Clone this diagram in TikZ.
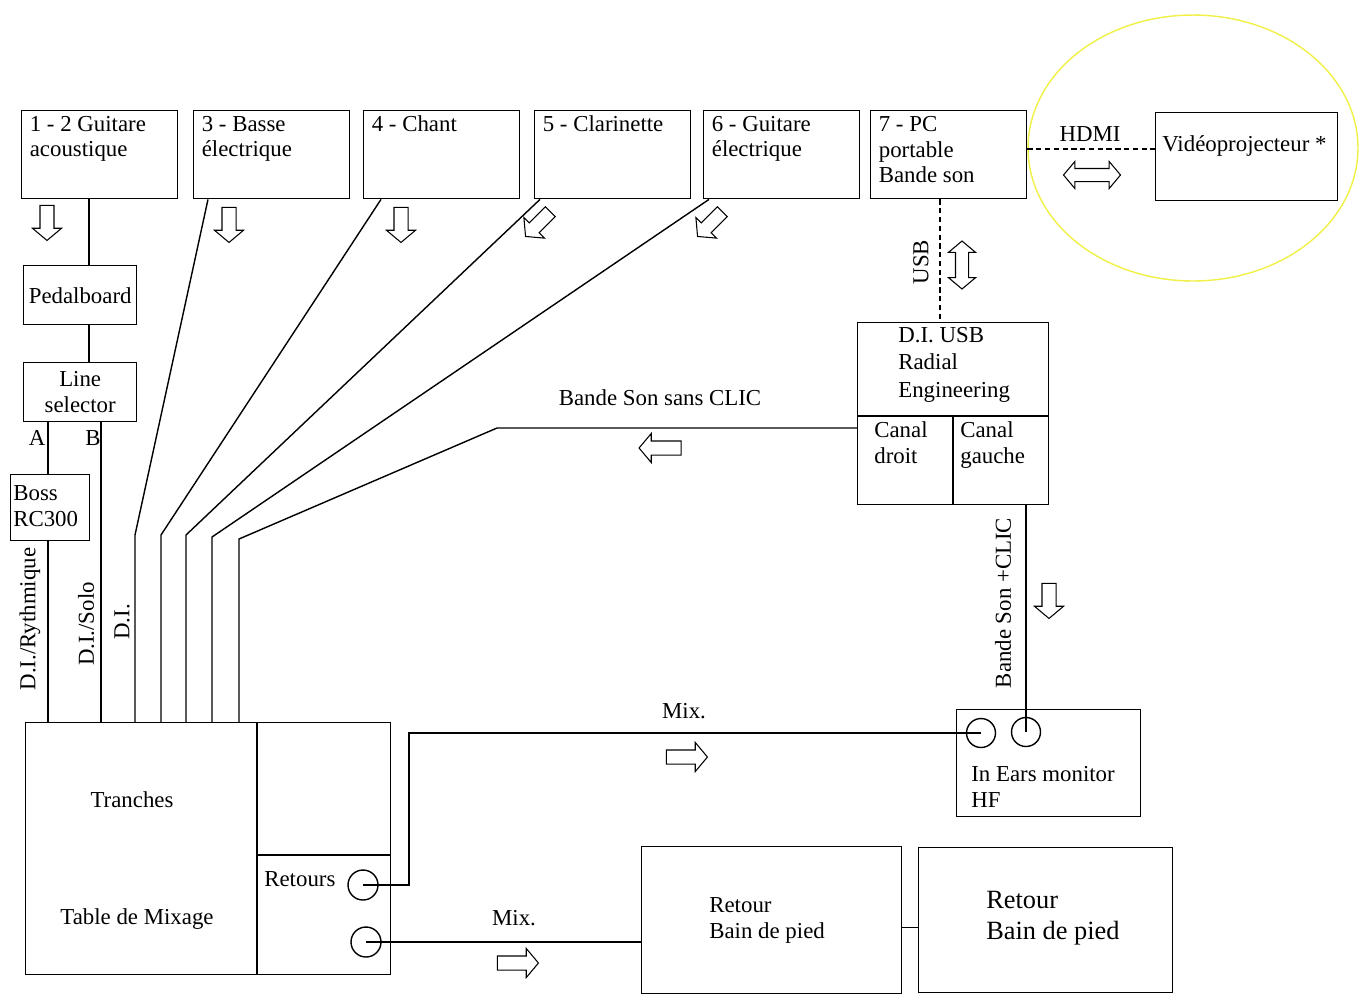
\documentclass[tikz,border=0pt]{standalone}
\usepackage{fontspec}
\setmainfont{Liberation Serif}
\usetikzlibrary{shapes.arrows}
\definecolor{halo}{RGB}{240,240,70}
\tikzset{
  box/.style={draw, line width=0.8pt, inner sep=0, anchor=north west},
  lbl/.style={inner sep=0, anchor=base west, align=left, font=\fontsize{13}{14.7}\selectfont},
  hollow/.style={single arrow, draw, line width=0.6pt, inner xsep=0, inner ysep=0.13cm, minimum height=0.7cm, single arrow head extend=0.15cm, single arrow tip angle=100},
  dhollow/.style={double arrow, draw, line width=0.6pt, inner xsep=0, inner ysep=0.12cm, double arrow head extend=0.14cm, double arrow tip angle=100},
  jack/.style={circle, draw, line width=0.8pt, inner sep=0, minimum size=0.58cm},
  wire/.style={line width=0.8pt},
}
\begin{document}
\begin{tikzpicture}[x=0.02cm, y=-0.02cm]
        \useasboundingbox (0,0) rectangle (1368,995);
        % sources
        \foreach \n/\x/\dy/\t in {guit/21/0.94/{1 - 2 Guitare\\acoustique}, bass/193/0.94/{3 - Basse\\électrique}, chant/363/0.42/{4 - Chant}, clar/534/0.42/{5 - Clarinette}, guitel/703/0.94/{6 - Guitare\\électrique}, pc/870/1.46/{7 - PC\\portable\\Bande son}}
        {
            \node[box, minimum width=3.12cm, minimum height=1.76cm] (\n) at (\x,110) {};
            \node[lbl] (t\n) at ([shift={(0.17cm,-\dy cm)}]\n.north west) {\t};
        }
        \node[box, minimum width=3.64cm, minimum height=1.76cm] (video) at (1155,112) {};
        \node[lbl] (tvideo) at ([shift={(0.14cm,-0.78cm)}]video.north west) {Vidéoprojecteur *};
        \draw[halo, line width=0.8pt] (1193,148) ellipse [x radius=3.3cm, y radius=2.66cm];
        % guitare
        \node[box, minimum width=2.26cm, minimum height=1.18cm] (pedal) at (23,265) {};
        \node[lbl, anchor=center] (tpedal) at (pedal.center) {Pedalboard};
        \node[box, minimum width=2.26cm, minimum height=1.18cm] (linesel) at (23,362) {};
        \node[lbl, anchor=center, align=center] (tlinesel) at (linesel.center) {Line\\selector};
        \node[box, minimum width=1.58cm, minimum height=1.32cm] (boss) at (10,474) {};
        \node[lbl] (tboss) at (13,526) {Boss\\RC300};
        \node[lbl, anchor=base] (labA) at (37,445) {A};
        \node[lbl, anchor=base] (labB) at (93,445) {B};
        % D.I. USB
        \node[box, minimum width=3.82cm, minimum height=3.64cm] (diusb) at (857,322) {};
        \draw[wire] (857,416) -- (1048,416) (953,416) -- (953,504);
        \node[lbl, font=\fontsize{13}{15.6}\selectfont] (tdiusb) at (898,397) {D.I. USB\\Radial\\Engineering};
        \node[lbl] (tdroit) at (874,463) {Canal\\droit};
        \node[lbl] (tgauche) at (960,463) {Canal\\gauche};
        % in ears
        \node[box, minimum width=3.68cm, minimum height=2.14cm] (iem) at (956,709) {};
        \node[jack] (iemL) at (981,733) {};
        \node[jack] (iemR) at (1026,732) {};
        \node[lbl] (tiem) at (971,807) {In Ears monitor\\HF};
        % table de mixage
        \node[box, minimum width=7.3cm, minimum height=5.04cm] (mix) at (25,722) {};
        \draw[wire] (257,722) -- (257,974) (257,855) -- (390,855);
        \node[lbl, anchor=base] (ttranches) at (132,807) {Tranches};
        \node[lbl, anchor=base] (tmix) at (137,924) {Table de Mixage};
        \node[lbl] (tretours) at (264,886) {Retours};
        \node[jack, minimum size=0.6cm] (retA) at (363,885) {};
        \node[jack, minimum size=0.6cm] (retB) at (366,942) {};
        \node[box, minimum width=5.2cm, minimum height=2.94cm] (bain1) at (641,846) {};
        \node[box, minimum width=5.08cm, minimum height=2.9cm] (bain2) at (918,847) {};
        \node[lbl] (tbain1) at (709,938) {Retour\\Bain de pied};
        \node[lbl, font=\fontsize{15}{17.2}\selectfont] (tbain2) at (986,939) {Retour\\Bain de pied};
        % labels
        \node[lbl, anchor=base] (tsans) at (660,405) {Bande Son sans CLIC};
        \node[lbl, anchor=base] (thdmi) at (1090,141) {HDMI};
        \node[lbl, anchor=base] (tmixA) at (684,718) {Mix.};
        \node[lbl, anchor=base] (tmixB) at (514,925) {Mix.};
        \node[lbl, anchor=center, rotate=90] (trythm) at (30,619) {D.I./Rythmique};
        \node[lbl, anchor=center, rotate=90] (tsolo) at (86,624) {D.I./Solo};
        \node[lbl, anchor=center, rotate=90] (tdi) at (122,622) {D.I.};
        \node[lbl, anchor=center, rotate=90] (tusb) at (921,262) {USB};
        \node[lbl, anchor=center, rotate=90] (tclic) at (1003,603) {Bande Son +CLIC};
        % cables
        \coordinate (gx) at (89,0);
        \coordinate (ax) at (48,0);
        \coordinate (bx) at (101,0);
        \coordinate (ux) at (940,0);
        \coordinate (hy) at (0,149);
        \coordinate (mx) at (409,0);
        \draw[wire] (guit.south -| gx) -- (pedal.north -| gx) (pedal.south -| gx) -- (linesel.north -| gx);
        \draw[wire] (linesel.south -| ax) -- (boss.north -| ax) (boss.south -| ax) -- (mix.north -| ax);
        \draw[wire] (linesel.south -| bx) -- (mix.north -| bx);
        \foreach \n/\dx/\kx/\ky in {bass/0.3/135/535, chant/0.36/161/535, clar/0.12/186/535, guitel/0.12/212/537}
            \draw[wire] ([xshift=\dx cm]\n.south west) -- (\kx,\ky) -- (\kx,\ky |- mix.north);
        \draw[wire] (diusb.west |- 0,428) -- (497,428) -- (239,539) -- (239,539 |- mix.north);
        \draw[wire, dash pattern=on 3pt off 2pt] (pc.south -| ux) -- (diusb.north -| ux);
        \draw[wire, dash pattern=on 3pt off 2pt] (pc.east |- hy) -- (video.west |- hy);
        \draw[wire] (diusb.south -| iemR) -- (iemR.center);
        \draw[wire] (iemL.center) -- (iemL.center -| mx) -- (retA.center -| mx) -- (retA.center);
        \draw[wire] (retB.center) -- (retB.center -| bain1.west);
        \draw[wire] ([yshift=-0.15cm]bain1.east) -- ([yshift=-0.15cm]bain1.east -| bain2.west);
        % fleches
        \foreach \x/\y/\r in {47/220/-90, 229/222/-90, 401/222/-90, 540/222/225, 712/222/225, 1049/598/-90}
            \node[hollow, rotate=\r] (f\x) at (\x,\y) {};
        \node[hollow, rotate=180, minimum height=0.84cm] (fsans) at (663,448) {};
        \node[hollow, minimum height=0.82cm] (fmixA) at (684,757) {};
        \node[hollow, minimum height=0.82cm] (fmixB) at (515,963) {};
        \node[dhollow, rotate=90, minimum height=0.96cm] (fusb) at (962,265) {};
        \node[dhollow, minimum height=1.14cm] (fhdmi) at (1092,175) {};
\end{tikzpicture}
\end{document}
